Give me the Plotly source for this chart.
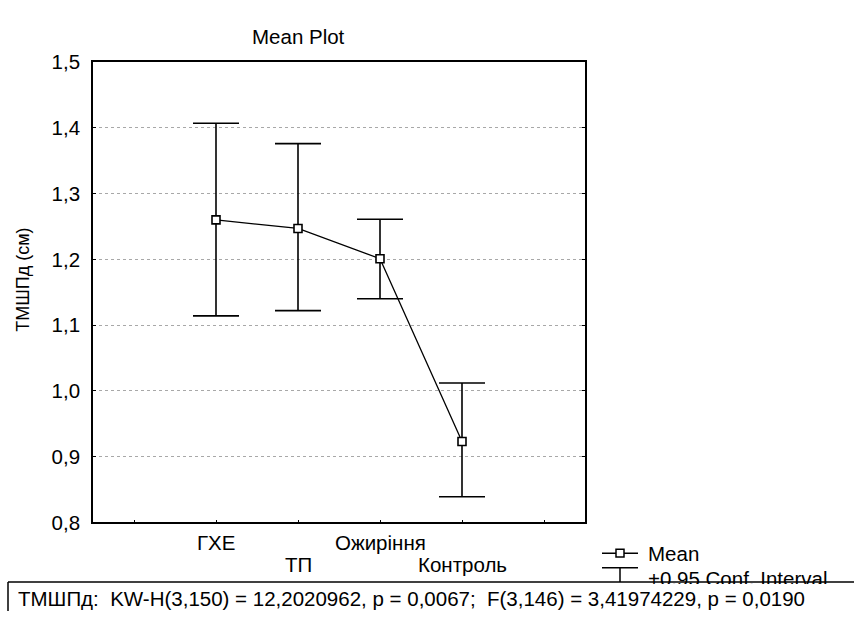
import plotly.graph_objects as go

categories = ["ГХЕ", "ТП", "Ожиріння", "Контроль"]
means = [1.260, 1.247, 1.201, 0.923]
upper = [1.407, 1.376, 1.261, 1.012]
lower = [1.114, 1.122, 1.140, 0.839]
y_ticks = [0.8, 0.9, 1.0, 1.1, 1.2, 1.3, 1.4, 1.5]
y_tick_labels = ["0,8", "0,9", "1,0", "1,1", "1,2", "1,3", "1,4", "1,5"]

W, H = 854, 622
FONT = "Liberation Sans, Arial, sans-serif"
FS = 20.5

xpos = [i + 1 for i in range(len(categories))]

fig = go.Figure()
fig.add_trace(go.Scatter(
    x=xpos, y=means, mode="lines+markers",
    line=dict(color="black", width=1.3),
    marker=dict(symbol="square", size=8, color="white",
                line=dict(color="black", width=1.6)),
    error_y=dict(type="data", symmetric=False,
                 array=[u - m for u, m in zip(upper, means)],
                 arrayminus=[m - l for m, l in zip(means, lower)],
                 color="black", thickness=1.6, width=23),
    showlegend=False, hoverinfo="skip",
))

def px_x(p):
    return p / W

def px_y(p):
    return 1 - p / H

fig.update_layout(
    width=W, height=H,
    margin=dict(l=0, r=0, t=0, b=0),
    paper_bgcolor="white", plot_bgcolor="white",
    font=dict(family=FONT, size=FS, color="black"),
    xaxis=dict(domain=[px_x(93), px_x(585)], range=[-0.5, 5.5],
               tickvals=list(range(0, 6)), ticktext=[""] * 6,
               ticks="inside", ticklen=3, tickwidth=1.2, tickcolor="black",
               showline=True, linecolor="black", linewidth=1.6, mirror=True,
               showgrid=False, zeroline=False, fixedrange=True),
    yaxis=dict(domain=[px_y(530), px_y(52)], range=[0.8, 1.5],
               tickvals=y_ticks, ticktext=y_tick_labels,
               ticks="inside", ticklen=3, tickwidth=1.2, tickcolor="black",
               showline=True, linecolor="black", linewidth=1.6, mirror="ticks",
               showgrid=True, gridcolor="#a8a8a8", griddash="dot", gridwidth=1,
               zeroline=False, tickfont=dict(size=FS, family=FONT),
               ticklabelstandoff=7),
)

ann = []
ann.append(dict(text="Mean Plot", x=px_x(298), y=px_y(25), xref="paper", yref="paper",
                showarrow=False, xanchor="center", yanchor="middle",
                font=dict(size=FS, family=FONT)))
ann.append(dict(text="ТМШПд (см)", x=px_x(23), y=px_y(278), xref="paper", yref="paper",
                showarrow=False, textangle=-90, xanchor="center", yanchor="middle",
                font=dict(size=18, family=FONT)))
for i, c in enumerate(categories):
    ypix = 551 if i % 2 == 0 else 574
    ann.append(dict(text=c, x=xpos[i], y=px_y(ypix), xref="x", yref="paper",
                    showarrow=False, xanchor="center", yanchor="middle",
                    font=dict(size=FS, family=FONT)))
ann.append(dict(text="Mean", x=px_x(646), y=px_y(562), xref="paper", yref="paper",
                showarrow=False, xanchor="left", yanchor="middle",
                font=dict(size=FS, family=FONT)))
ann.append(dict(text="+0.95 Conf. Interval", x=px_x(646), y=px_y(588), xref="paper", yref="paper",
                showarrow=False, xanchor="left", yanchor="middle",
                font=dict(size=FS, family=FONT)))
# statistics text inside the bottom box (white background hides legend text below the box line)
ann.append(dict(text="ТМШПд:  KW-H(3,150) = 12,2020962, p = 0,0067;  F(3,146) = 3,41974229, p = 0,0190",
                x=px_x(18), y=px_y(593.5), xref="paper", yref="paper",
                showarrow=False, xanchor="left", yanchor="top",
                width=836, height=28, align="left", valign="middle",
                bgcolor="white", bordercolor="rgba(0,0,0,0)", borderwidth=0, borderpad=0,
                font=dict(size=FS, family=FONT)))
fig.update_layout(annotations=ann)

shapes = []
# legend symbols
shapes.append(dict(type="line", xref="paper", yref="paper",
                   x0=px_x(602), x1=px_x(638), y0=px_y(562), y1=px_y(562),
                   line=dict(color="black", width=1.5)))
shapes.append(dict(type="rect", xref="paper", yref="paper",
                   x0=px_x(616), x1=px_x(624), y0=px_y(566), y1=px_y(558),
                   fillcolor="white", line=dict(color="black", width=1.5)))
shapes.append(dict(type="line", xref="paper", yref="paper",
                   x0=px_x(602), x1=px_x(638), y0=px_y(577), y1=px_y(577),
                   line=dict(color="black", width=1.5)))
shapes.append(dict(type="line", xref="paper", yref="paper",
                   x0=px_x(620), x1=px_x(620), y0=px_y(577), y1=px_y(592),
                   line=dict(color="black", width=1.5)))
# bottom statistics box: top and left edges (right and bottom run off the page)
shapes.append(dict(type="line", xref="paper", yref="paper",
                   x0=px_x(8), x1=1, y0=px_y(592), y1=px_y(592),
                   line=dict(color="black", width=1.5)))
shapes.append(dict(type="line", xref="paper", yref="paper",
                   x0=px_x(8), x1=px_x(8), y0=px_y(592), y1=0,
                   line=dict(color="black", width=1.5)))
fig.update_layout(shapes=shapes)

fig.write_html("out.html")
